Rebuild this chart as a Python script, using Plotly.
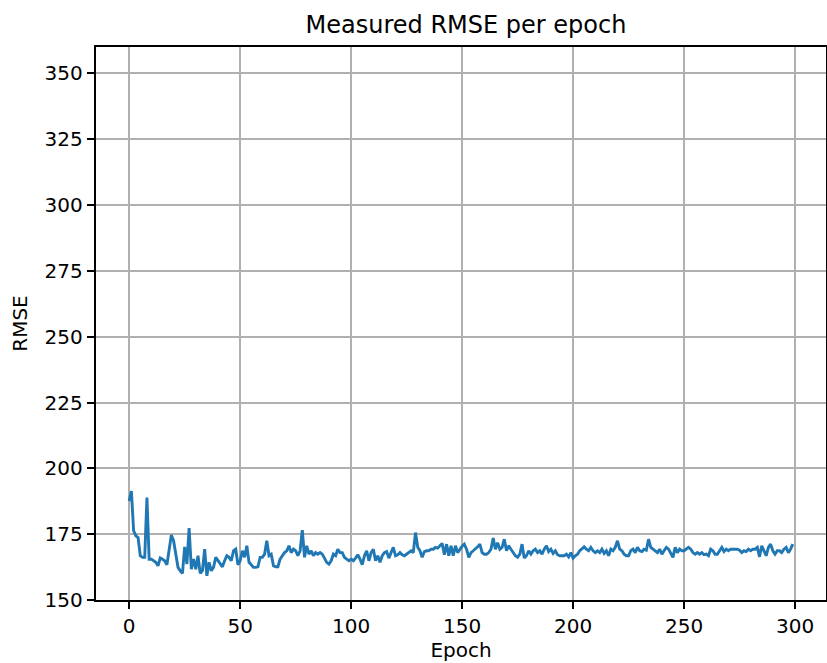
import plotly.graph_objects as go

rmse = [
    187.6, 191.4, 176.3, 174.4, 173.7, 166.8, 166.2, 166.2, 188.9, 165.5,
    165.5, 164.9, 164.3, 163.0, 166.0, 165.5, 164.9, 163.4, 168.7, 174.7,
    172.5, 166.8, 162.4, 161.1, 160.1, 170.2, 163.6, 177.3, 161.7, 165.5,
    161.7, 166.8, 160.1, 161.1, 169.3, 159.2, 164.3, 161.1, 162.4, 166.2,
    164.9, 163.4, 162.6, 164.9, 166.8, 166.2, 164.9, 168.7, 169.3, 163.4,
    164.9, 168.7, 166.2, 170.6, 164.3, 163.4, 162.4, 162.4, 162.6, 166.2,
    166.2, 167.4, 172.5, 166.8, 167.4, 163.0, 162.6, 162.6, 165.5, 166.8,
    168.0, 168.7, 170.6, 168.0, 169.3, 168.7, 166.8, 168.7, 176.5, 166.2,
    170.6, 167.4, 168.7, 166.8, 168.0, 167.4, 168.0, 167.4, 165.5, 164.3,
    163.6, 164.9, 167.4, 166.8, 169.3, 168.0, 168.0, 166.2, 165.5, 164.9,
    165.5, 164.9, 165.9, 167.2, 165.5, 163.4, 166.8, 168.7, 164.9, 168.0,
    169.3, 164.9, 166.8, 164.3, 166.8, 168.0, 168.4, 165.9, 168.0, 170.0,
    166.8, 167.2, 168.0, 167.2, 166.8, 167.4, 168.0, 168.7, 168.0, 175.6,
    170.0, 168.7, 166.2, 168.4, 168.7, 168.7, 169.3, 169.3, 170.0, 169.7,
    170.6, 171.5, 167.2, 171.2, 166.8, 170.6, 166.8, 170.6, 168.0, 169.3,
    170.4, 171.2, 169.3, 166.2, 168.0, 168.7, 169.3, 170.2, 171.2, 168.0,
    167.4, 167.4, 168.0, 169.3, 173.5, 169.3, 171.8, 169.3, 170.0, 173.1,
    168.7, 170.6, 169.3, 168.0, 166.8, 166.2, 167.4, 171.2, 165.9, 166.8,
    168.7, 167.4, 168.7, 169.3, 168.0, 168.7, 167.4, 169.3, 170.6, 168.4,
    169.3, 167.7, 168.7, 167.2, 166.8, 166.8, 166.8, 167.4, 166.4, 168.0,
    165.9, 166.8, 167.4, 168.7, 169.3, 170.2, 169.3, 168.7, 170.0, 168.7,
    168.0, 168.7, 168.0, 169.3, 167.7, 168.7, 166.8, 169.3, 168.7, 170.0,
    172.5, 169.3, 168.7, 167.4, 166.8, 166.8, 168.7, 169.3, 168.0, 170.0,
    168.7, 168.4, 169.3, 168.9, 173.1, 170.0, 169.3, 168.7, 168.0, 169.3,
    167.4, 168.7, 170.0, 169.3, 168.0, 166.2, 170.0, 168.0, 169.3, 168.7,
    168.7, 169.3, 170.0, 169.3, 168.0, 167.4, 168.0, 167.4, 168.0, 167.2,
    167.4, 166.8, 169.3, 168.7, 167.4, 167.4, 168.7, 170.0, 168.4, 169.3,
    168.7, 169.3, 169.3, 169.3, 169.3, 168.9, 168.0, 168.7, 168.4, 169.3,
    168.7, 169.3, 169.3, 170.0, 166.4, 170.6, 168.7, 166.8, 170.0, 171.2,
    168.7, 167.4, 168.7, 168.7, 168.0, 169.3, 170.0, 168.0, 169.3, 171.2,
]
epochs = list(range(len(rmse)))

x_ticks = [0, 50, 100, 150, 200, 250, 300]
y_ticks = [150, 175, 200, 225, 250, 275, 300, 325, 350]

fig = go.Figure()
fig.add_trace(go.Scatter(
    x=epochs, y=rmse, mode="lines",
    line=dict(color="#1f77b4", width=2.9),
    showlegend=False,
))

font = "DejaVu Sans, sans-serif"
axis_common = dict(
    showline=True, linecolor="black", linewidth=1.5, mirror=True,
    ticks="outside", ticklen=7.5, tickwidth=1.5, tickcolor="black",
    showgrid=True, gridcolor="#b0b0b0", gridwidth=1.5,
    zeroline=False, automargin=False,
    tickfont=dict(family=font, size=20, color="black"),
)

fig.update_layout(
    width=827, height=663,
    margin=dict(l=96, r=1, t=47, b=63),
    paper_bgcolor="white", plot_bgcolor="white",
    title=dict(text="Measured RMSE per epoch", x=466 / 827, xanchor="center",
               y=1 - 25 / 663, yanchor="middle",
               font=dict(family=font, size=24, color="black")),
    xaxis=dict(range=[-14.95, 313.95], tickvals=x_ticks,
               title=dict(text="Epoch", font=dict(family=font, size=20, color="black"), standoff=5),
               **axis_common),
    yaxis=dict(range=[150, 360], tickvals=y_ticks,
               title=dict(text="RMSE", font=dict(family=font, size=20, color="black"), standoff=12),
               **axis_common),
)

fig.write_html("out.html")
